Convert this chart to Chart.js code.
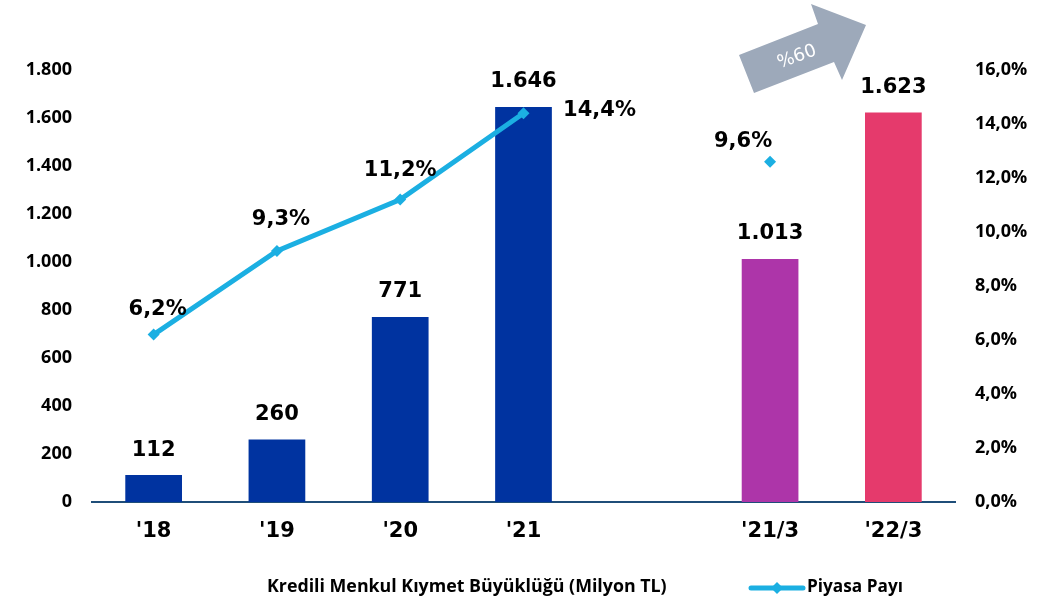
<!DOCTYPE html>
<html>
<head>
<meta charset="utf-8">
<script src="https://cdn.jsdelivr.net/npm/chart.js@4"></script>
<style>
html,body{margin:0;padding:0;background:#fff;}
#wrap{width:1055px;height:602px;position:relative;}
</style>
</head>
<body>
<div id="wrap"><canvas id="c" width="1055" height="602"></canvas></div>
<script>
const categories = ["'18", "'19", "'20", "'21", "", "'21/3", "'22/3"];
const barValues = [112, 260, 771, 1646, null, 1013, 1623];
const barLabels = ["112", "260", "771", "1.646", "", "1.013", "1.623"];
const shareValues = [6.2, 9.3, 11.2, 14.4, null, 12.6, null];
const shareLabels = ["6,2%", "9,3%", "11,2%", "14,4%", "", "9,6%", ""];
const leftTicks = [0, 200, 400, 600, 800, 1000, 1200, 1400, 1600, 1800];
const rightTicks = [0, 2, 4, 6, 8, 10, 12, 14, 16];
const barSeriesName = "Kredili Menkul Kıymet Büyüklüğü (Milyon TL)";
const lineSeriesName = "Piyasa Payı";
const growthLabel = "%60";

const barColors = ['#0033A0','#0033A0','#0033A0','#0033A0','#0033A0','#AD35A9','#E53A6C'];
const lineColor = '#1BAFE2';
const valFont = 'bold 21px "DejaVu Sans"';
const lineLabelOffsets = [[4,-25],[4,-31],[0,-29],[76,-3],[0,0],[-27,-20],[0,0]];

function fmtThousands(v){ return String(v).replace(/\B(?=(\d{3})+(?!\d))/g, '.'); }

function fitFont(ctx, text, targetW, family){
  ctx.font = 'bold 16px ' + family;
  const w = ctx.measureText(text).width;
  const size = 16 * targetW / w;
  ctx.font = 'bold ' + size.toFixed(2) + 'px ' + family;
}

const decor = {
  id: 'decor',
  afterDatasetsDraw(chart){
    const ctx = chart.ctx;
    ctx.save();
    ctx.fillStyle = '#000';
    ctx.font = valFont;
    ctx.textAlign = 'center';
    ctx.textBaseline = 'middle';
    const bm = chart.getDatasetMeta(0);
    bm.data.forEach((el,i)=>{
      if (barValues[i] == null) return;
      ctx.fillText(barLabels[i], el.x, el.y - 25);
    });
    const lm = chart.getDatasetMeta(1);
    lm.data.forEach((el,i)=>{
      if (shareValues[i] == null) return;
      const o = lineLabelOffsets[i];
      ctx.fillText(shareLabels[i], el.x + o[0], el.y + o[1]);
    });
    // growth arrow
    ctx.fillStyle = '#9DA9BA';
    ctx.beginPath();
    const pts = [[739,55],[818,24],[811,4],[866,25],[842,80],[834,62],[754,93]];
    ctx.moveTo(pts[0][0], pts[0][1]);
    for (let k=1;k<pts.length;k++) ctx.lineTo(pts[k][0], pts[k][1]);
    ctx.closePath();
    ctx.fill();
    ctx.save();
    ctx.translate(797, 57);
    ctx.rotate(-20*Math.PI/180);
    ctx.fillStyle = '#fff';
    ctx.font = '18px "DejaVu Sans"';
    ctx.fillText(growthLabel, 0, 0);
    ctx.restore();
    // legend
    ctx.fillStyle = '#000';
    ctx.textAlign = 'left';
    fitFont(ctx, barSeriesName, 400, '"Open Sans"');
    ctx.fillText(barSeriesName, 267, 587);
    ctx.strokeStyle = lineColor;
    ctx.lineWidth = 5;
    ctx.lineCap = 'round';
    ctx.beginPath(); ctx.moveTo(751, 588); ctx.lineTo(803, 588); ctx.stroke();
    ctx.fillStyle = lineColor;
    ctx.beginPath(); ctx.moveTo(777,582); ctx.lineTo(783,588); ctx.lineTo(777,594); ctx.lineTo(771,588); ctx.closePath(); ctx.fill();
    ctx.fillStyle = '#000';
    fitFont(ctx, lineSeriesName, 96, '"Open Sans"');
    ctx.fillText(lineSeriesName, 807, 587);
    ctx.restore();
  }
};

const tickFont = { family:'"Open Sans"', weight:'bold', size:18 };

new Chart(document.getElementById('c'), {
  data: {
    labels: categories,
    datasets: [
      { type:'bar', label: barSeriesName, data: barValues, backgroundColor: barColors,
        yAxisID:'y', categoryPercentage: 1, barPercentage: 0.46, order: 2 },
      { type:'line', label: lineSeriesName, data: shareValues, yAxisID:'y1',
        borderColor: lineColor, backgroundColor: lineColor, borderWidth: 5,
        pointStyle:'rectRot', pointRadius: 6, pointBorderWidth: 0, spanGaps: false, tension: 0, order: 1 }
    ]
  },
  options: {
    responsive: false,
    animation: false,
    layout: { padding: { top: 70, left: 0, right: 0, bottom: 0 } },
    plugins: { legend: { display:false }, tooltip: { enabled:false } },
    scales: {
      x: {
        grid: { display:false, drawTicks:false },
        border: { display:true, color:'#1F4E79', width:2 },
        ticks: { color:'#000', font:{ family:'"DejaVu Sans"', weight:'bold', size:21 }, padding: 17, maxRotation:0, autoSkip:false },
        afterFit(s){ s.height = 100; }
      },
      y: {
        position:'left', min:0, max:1800,
        afterBuildTicks(s){ s.ticks = leftTicks.map(v=>({value:v})); },
        grid: { display:false, drawTicks:false },
        border: { display:false },
        ticks: { color:'#000', font: tickFont, padding: 20,
          callback: v => fmtThousands(v) },
        afterFit(s){ s.width = 92; }
      },
      y1: {
        position:'right', min:0, max:16,
        afterBuildTicks(s){ s.ticks = rightTicks.map(v=>({value:v})); },
        grid: { display:false, drawTicks:false },
        border: { display:false },
        ticks: { color:'#000', font: tickFont, padding: 20,
          callback: v => v.toFixed(1).replace('.', ',') + '%' },
        afterFit(s){ s.width = 100; }
      }
    }
  },
  plugins: [decor]
});
</script>
</body>
</html>
